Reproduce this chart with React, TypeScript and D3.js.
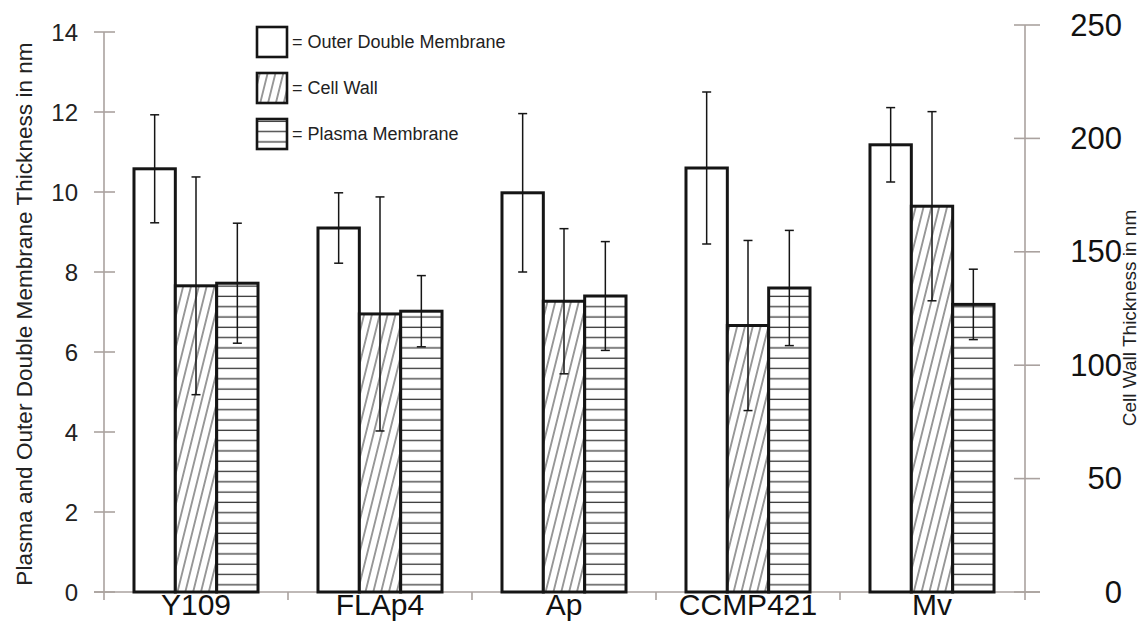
import React from "react";
import * as d3 from "d3";

const categories = ["Y109", "FLAp4", "Ap", "CCMP421", "Mv"];
const outerMembrane = [10.58, 9.1, 9.98, 10.6, 11.18];
const outerMembraneErr = [1.35, 0.88, 1.98, 1.9, 0.93];
const cellWall = [135, 122.6, 128.2, 117.5, 170.1];
const cellWallErr = [48, 51.6, 32, 37.5, 41.7];
const plasmaMembrane = [7.72, 7.02, 7.4, 7.6, 7.19];
const plasmaMembraneErr = [1.5, 0.89, 1.36, 1.44, 0.88];
const leftTicks = [0, 2, 4, 6, 8, 10, 12, 14];
const rightTicks = [0, 50, 100, 150, 200, 250];
const legendLabels = ["= Outer Double Membrane", "= Cell Wall", "= Plasma Membrane"];

const W = 1143;
const H = 624;
const FONT = "'Liberation Sans', Arial, Helvetica, sans-serif";
const AXIS = "#aaa29f";
const INK = "#151515";

export default function App() {
  const x0 = d3
    .scaleBand<string>()
    .domain(categories)
    .range([104, 1024])
    .paddingInner(0.326)
    .paddingOuter(0.163);
  const seriesKeys = ["outer", "wall", "plasma"];
  const x1 = d3.scaleBand<string>().domain(seriesKeys).range([0, x0.bandwidth()]);
  const yL = d3.scaleLinear().domain([0, 14]).range([592, 32]);
  const yR = d3.scaleLinear().domain([0, 250]).range([592, 25]);

  const series = [
    { key: "outer", values: outerMembrane, errs: outerMembraneErr, y: yL, fill: "#fff" },
    { key: "wall", values: cellWall, errs: cellWallErr, y: yR, fill: "url(#diag)" },
    { key: "plasma", values: plasmaMembrane, errs: plasmaMembraneErr, y: yL, fill: "url(#horiz)" },
  ];

  const base = yL(0);
  const capHalf = 4.5;

  return (
    <div style={{ position: "absolute", left: 0, top: 0 }}>
      <svg width={W} height={H} style={{ display: "block", background: "#fff" }}>
        <defs>
          <pattern id="diag" patternUnits="userSpaceOnUse" width="7.6" height="12" patternTransform="rotate(14)">
            <rect width="7.6" height="12" fill="#fff" />
            <line x1="3.8" y1="-1" x2="3.8" y2="13" stroke="#4a4a4a" strokeWidth="1.1" />
          </pattern>
          <pattern id="horiz" patternUnits="userSpaceOnUse" width="12" height="10.3" y="3">
            <rect width="12" height="10.3" fill="#fff" />
            <line x1="-1" y1="5" x2="13" y2="5" stroke="#3a3a3a" strokeWidth="1.3" />
          </pattern>
        </defs>

        {/* baseline */}
        <line x1={94} x2={1040} y1={base} y2={base} stroke={AXIS} strokeWidth={1.6} />
        {/* category separator ticks */}
        {categories.slice(1).map((c) => (
          <line
            key={"sep" + c}
            x1={x0(c)! - (x0.step() - x0.bandwidth()) / 2}
            x2={x0(c)! - (x0.step() - x0.bandwidth()) / 2}
            y1={base}
            y2={base + 8}
            stroke={AXIS}
            strokeWidth={1.6}
          />
        ))}

        {/* left axis */}
        <line x1={104} x2={104} y1={yL(14)} y2={base + 8} stroke={AXIS} strokeWidth={1.6} />
        {leftTicks.map((t) => (
          <g key={"lt" + t}>
            <line x1={94} x2={115} y1={yL(t)} y2={yL(t)} stroke={AXIS} strokeWidth={1.6} />
            <text
              x={78}
              y={yL(t)}
              textAnchor="end"
              dominantBaseline="central"
              fontFamily={FONT}
              fontSize={24}
              fill="#222"
            >
              {t}
            </text>
          </g>
        ))}

        {/* right axis */}
        <line x1={1025} x2={1025} y1={yR(250)} y2={base + 8} stroke={AXIS} strokeWidth={1.6} />
        {rightTicks.map((t) => (
          <g key={"rt" + t}>
            <line x1={1014} x2={1040} y1={yR(t)} y2={yR(t)} stroke={AXIS} strokeWidth={1.6} />
            <text
              x={1122}
              y={yR(t)}
              textAnchor="end"
              dominantBaseline="central"
              fontFamily={FONT}
              fontSize={31}
              fill="#111"
            >
              {t}
            </text>
          </g>
        ))}

        {/* axis titles */}
        <text
          transform={`translate(32, ${(yL(0) + yL(14)) / 2 + 2}) rotate(-90)`}
          textAnchor="middle"
          fontFamily={FONT}
          fontSize={22.6}
          fill="#222"
        >
          Plasma and Outer Double Membrane Thickness in nm
        </text>
        <text
          transform={`translate(1136, 318) rotate(-90)`}
          textAnchor="middle"
          fontFamily={FONT}
          fontSize={19}
          fill="#222"
        >
          Cell Wall Thickness in nm
        </text>

        {/* bars */}
        {series.map((s) =>
          categories.map((c, i) => {
            const x = x0(c)! + x1(s.key)!;
            const y = s.y(s.values[i]);
            return (
              <rect
                key={s.key + c}
                x={x}
                y={y}
                width={x1.bandwidth()}
                height={base - y}
                fill={s.fill}
                stroke={INK}
                strokeWidth={3}
              />
            );
          })
        )}

        {/* error bars */}
        {series.map((s) =>
          categories.map((c, i) => {
            const cx = x0(c)! + x1(s.key)! + x1.bandwidth() / 2;
            const top = s.y(s.values[i] + s.errs[i]);
            const bot = s.y(s.values[i] - s.errs[i]);
            return (
              <g key={"e" + s.key + c} stroke={INK} strokeWidth={1.5}>
                <line x1={cx} x2={cx} y1={top} y2={bot} />
                <line x1={cx - capHalf} x2={cx + capHalf} y1={top} y2={top} />
                <line x1={cx - capHalf} x2={cx + capHalf} y1={bot} y2={bot} />
              </g>
            );
          })
        )}

        {/* category labels */}
        {categories.map((c) => (
          <text
            key={"cl" + c}
            x={x0(c)! + x0.bandwidth() / 2}
            y={615}
            textAnchor="middle"
            fontFamily={FONT}
            fontSize={30}
            fill="#111"
          >
            {c}
          </text>
        ))}

        {/* legend */}
        {legendLabels.map((l, i) => {
          const fills = ["#fff", "url(#diag)", "url(#horiz)"];
          const y = 27 + i * 46;
          return (
            <g key={"lg" + i}>
              <rect x={257} y={y} width={30} height={30} fill={fills[i]} stroke={INK} strokeWidth={2.6} />
              <text
                x={292}
                y={y + 15}
                dominantBaseline="central"
                fontFamily={FONT}
                fontSize={18}
                fill="#222"
              >
                {l}
              </text>
            </g>
          );
        })}
      </svg>
    </div>
  );
}
